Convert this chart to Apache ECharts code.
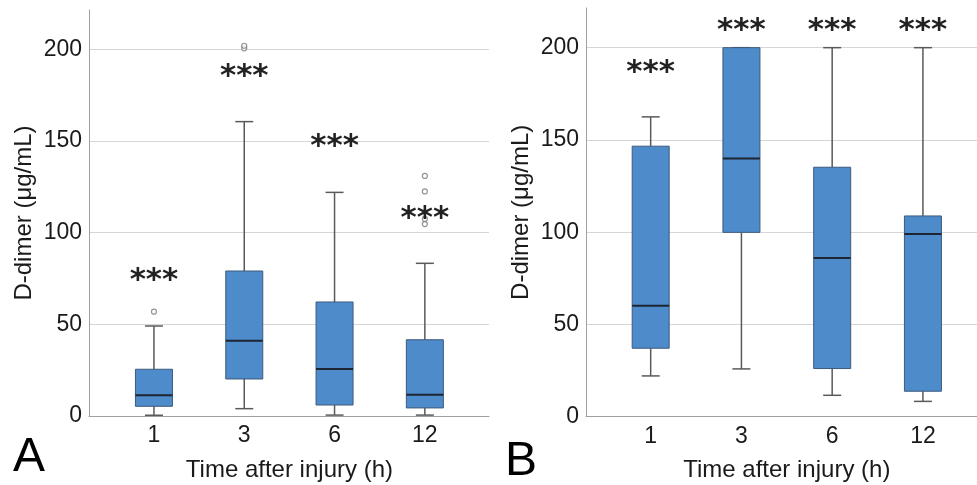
<!DOCTYPE html>
<html><head><meta charset="utf-8">
<script src="https://cdn.jsdelivr.net/npm/echarts@6/dist/echarts.min.js"></script>
<style>html,body{margin:0;padding:0;background:#fff}#c{width:977px;height:485px}</style>
</head><body><div id="c"></div>
<script>
const categories = ['1', '3', '6', '12'];
// each box: [lower whisker, Q1, median, Q3, upper whisker]
const boxesA = [
  [0.4, 5.3, 11.3, 25.5, 49.1],
  [4.0, 20.2, 41.1, 79.1, 160.6],
  [0.5, 6.0, 25.6, 62.2, 122.0],
  [0.5, 4.4, 11.6, 41.6, 83.3]
];
const outliersA = [[0, 56.9], [1, 200.6], [1, 202.0], [3, 131.0], [3, 122.5], [3, 107.5], [3, 104.7]];
const starsA = [77.8, 189.6, 150.9, 112.0];
const boxesB = [
  [22.1, 37.1, 60.1, 146.6, 162.5],
  [25.9, 99.9, 139.9, 200.0, 200.0],
  [11.6, 26.1, 86.0, 135.2, 200.0],
  [8.3, 13.8, 99.0, 108.8, 200.0]
];
const outliersB = [];
const starsB = [190.6, 213.6, 213.6, 213.6];
const yMin = 0, yMax = 221.5, yStep = 50;
const yName = 'D-dimer (μg/mL)';
const xName = 'Time after injury (h)';

const FONT = 'Liberation Sans, Arial, sans-serif';
const BOX_HALF = 18.5, CAP_HALF = 9;

function renderBox(params, api) {
  const i = api.value(0);
  const lo = api.coord([i, api.value(1)]);
  const q1 = api.coord([i, api.value(2)]);
  const md = api.coord([i, api.value(3)]);
  const q3 = api.coord([i, api.value(4)]);
  const hi = api.coord([i, api.value(5)]);
  const x = lo[0];
  const ws = { stroke: '#5a5a5a', lineWidth: 1.5 };
  return {
    type: 'group',
    children: [
      { type: 'line', shape: { x1: x, y1: hi[1], x2: x, y2: q3[1] }, style: ws },
      { type: 'line', shape: { x1: x, y1: q1[1], x2: x, y2: lo[1] }, style: ws },
      { type: 'line', shape: { x1: x - CAP_HALF, y1: hi[1], x2: x + CAP_HALF, y2: hi[1] }, style: ws },
      { type: 'line', shape: { x1: x - CAP_HALF, y1: lo[1], x2: x + CAP_HALF, y2: lo[1] }, style: ws },
      { type: 'rect', shape: { x: x - BOX_HALF, y: q3[1], width: 2 * BOX_HALF, height: q1[1] - q3[1] },
        style: { fill: '#4e8bcb', stroke: '#3d5a7c', lineWidth: 1 } },
      { type: 'line', shape: { x1: x - BOX_HALF, y1: md[1], x2: x + BOX_HALF, y2: md[1] },
        style: { stroke: '#1c2530', lineWidth: 2 } }
    ]
  };
}
function renderStars(params, api) {
  const p = api.coord([api.value(0), api.value(1)]);
  return {
    type: 'text',
    style: { text: '***', x: p[0], y: p[1] + 8, align: 'center', verticalAlign: 'middle',
      font: 'bold 31px DejaVu Sans', fill: '#222' }
  };
}

const grids = [
  { left: 89, top: 10, width: 400, height: 406, outerBoundsMode: 'none' },
  { left: 108.8, top: 10, width: 361.2, height: 406, outerBoundsMode: 'none' },
  { left: 586, top: 8, width: 391, height: 408.7, outerBoundsMode: 'none' },
  { left: 605.3, top: 8, width: 363, height: 408.7, outerBoundsMode: 'none' }
];

const xAxes = [], yAxes = [];
for (let g = 0; g < 4; g++) {
  const frame = g % 2 === 0;
  if (frame) {
    xAxes.push({ gridIndex: g, type: 'value', min: 0, max: 1,
      axisLine: { show: true, lineStyle: { color: '#a0a0a0', width: 1 } },
      axisTick: { show: false }, axisLabel: { show: false }, splitLine: { show: false } });
    yAxes.push({ gridIndex: g, type: 'value', min: yMin, max: yMax, interval: yStep,
      name: yName, nameLocation: 'middle', nameGap: 53,
      nameTextStyle: { fontFamily: FONT, fontSize: 24, color: '#1a1a1a' },
      axisLine: { show: true, lineStyle: { color: '#a0a0a0', width: 1 } },
      axisTick: { show: false },
      axisLabel: { fontFamily: FONT, fontSize: 23, color: '#1a1a1a', margin: 7, showMaxLabel: false },
      splitLine: { show: true, showMaxLine: false, lineStyle: { color: '#d6d6d6', width: 1 } } });
  } else {
    xAxes.push({ gridIndex: g, type: 'category', data: categories, boundaryGap: true,
      name: xName, nameLocation: 'middle', nameGap: 42,
      nameTextStyle: { fontFamily: FONT, fontSize: 24, color: '#1a1a1a' },
      axisLine: { show: false }, axisTick: { show: false },
      axisLabel: { fontFamily: FONT, fontSize: 23, color: '#1a1a1a', margin: 8 },
      splitLine: { show: false } });
    yAxes.push({ gridIndex: g, type: 'value', min: yMin, max: yMax, interval: yStep, show: false,
      splitLine: { show: false } });
  }
}

const series = [
  { type: 'custom', xAxisIndex: 1, yAxisIndex: 1, renderItem: renderBox, clip: false,
    encode: { x: 0, y: [1, 2, 3, 4, 5] }, data: boxesA.map((b, i) => [i, ...b]) },
  { type: 'scatter', xAxisIndex: 1, yAxisIndex: 1, symbol: 'circle', symbolSize: 5,
    itemStyle: { color: '#fff', borderColor: '#7a7a7a', borderWidth: 1.2 }, data: outliersA, z: 5 },
  { type: 'custom', xAxisIndex: 1, yAxisIndex: 1, renderItem: renderStars, clip: false,
    encode: { x: 0, y: 1 }, data: starsA.map((v, i) => [i, v]), z: 6 },
  { type: 'custom', xAxisIndex: 3, yAxisIndex: 3, renderItem: renderBox, clip: false,
    encode: { x: 0, y: [1, 2, 3, 4, 5] }, data: boxesB.map((b, i) => [i, ...b]) },
  { type: 'scatter', xAxisIndex: 3, yAxisIndex: 3, symbol: 'circle', symbolSize: 5,
    itemStyle: { color: '#fff', borderColor: '#7a7a7a', borderWidth: 1.2 }, data: outliersB, z: 5 },
  { type: 'custom', xAxisIndex: 3, yAxisIndex: 3, renderItem: renderStars, clip: false,
    encode: { x: 0, y: 1 }, data: starsB.map((v, i) => [i, v]), z: 6 }
];

const chart = echarts.init(document.getElementById('c'), null, { renderer: 'canvas' });
chart.setOption({
  animation: false,
  backgroundColor: '#fff',
  grid: grids,
  xAxis: xAxes,
  yAxis: yAxes,
  series: series,
  graphic: [
    { type: 'text', left: 13, top: 434, style: { text: 'A', font: '48px Liberation Sans', fill: '#000' } },
    { type: 'text', left: 505, top: 438, style: { text: 'B', font: '48px Liberation Sans', fill: '#000' } }
  ]
});
</script>
</body></html>
